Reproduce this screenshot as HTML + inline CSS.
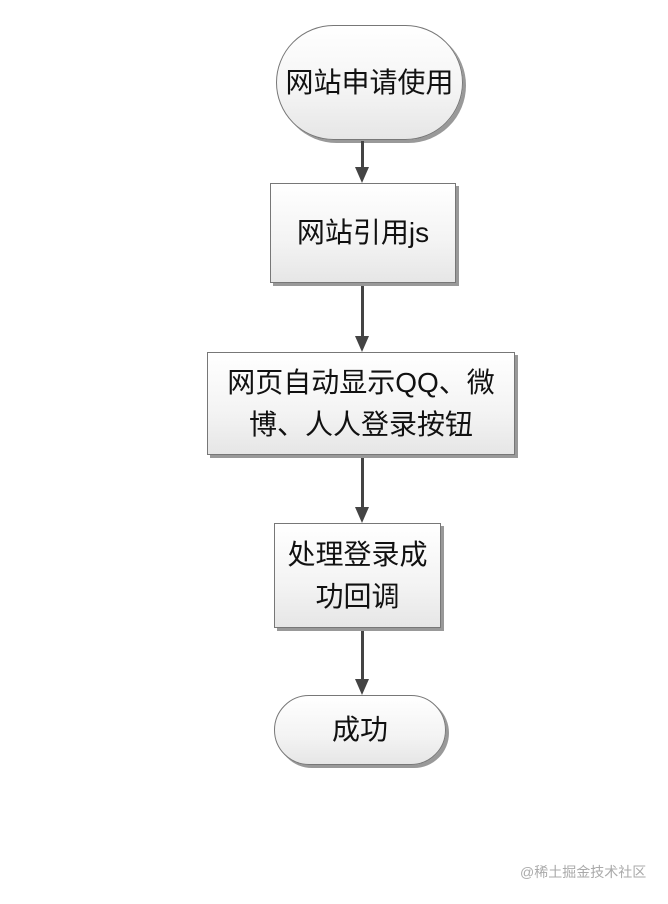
<!DOCTYPE html>
<html><head><meta charset="utf-8"><style>
body{margin:0;width:668px;height:904px;background:#fff;position:relative;overflow:hidden;font-family:"Liberation Sans","Noto Sans CJK SC",sans-serif;}
.n{position:absolute;box-sizing:border-box;border:1px solid #777;background:linear-gradient(#fff,#f3f3f3 60%,#e6e6e6);box-shadow:3px 3px 0 #999;display:flex;align-items:center;justify-content:center;text-align:center;font-size:28px;color:#111;line-height:42px;}
.l{position:absolute;width:3px;background:#444;left:361px;}
.a{position:absolute;width:0;height:0;border-left:7px solid transparent;border-right:7px solid transparent;border-top:16px solid #444;left:355px;}
</style></head><body>
<div class="n" style="left:276px;top:25px;width:187px;height:115px;border-radius:58px;">网站申请使用</div>
<div class="l" style="top:141px;height:30px"></div><div class="a" style="top:167px"></div>
<div class="n" style="left:270px;top:183px;width:186px;height:100px;">网站引用js</div>
<div class="l" style="top:286px;height:52px"></div><div class="a" style="top:336px"></div>
<div class="n" style="left:207px;top:352px;width:308px;height:103px;padding:0 6px;">网页自动显示QQ、微博、人人登录按钮</div>
<div class="l" style="top:458px;height:52px"></div><div class="a" style="top:507px"></div>
<div class="n" style="left:274px;top:523px;width:167px;height:105px;padding:0 4px;">处理登录成功回调</div>
<div class="l" style="top:631px;height:52px"></div><div class="a" style="top:679px"></div>
<div class="n" style="left:274px;top:695px;width:172px;height:70px;border-radius:35px;">成功</div>
<div style="position:absolute;left:520px;top:862px;font-size:14px;color:#aaa;">@稀土掘金技术社区</div>
</body></html>
